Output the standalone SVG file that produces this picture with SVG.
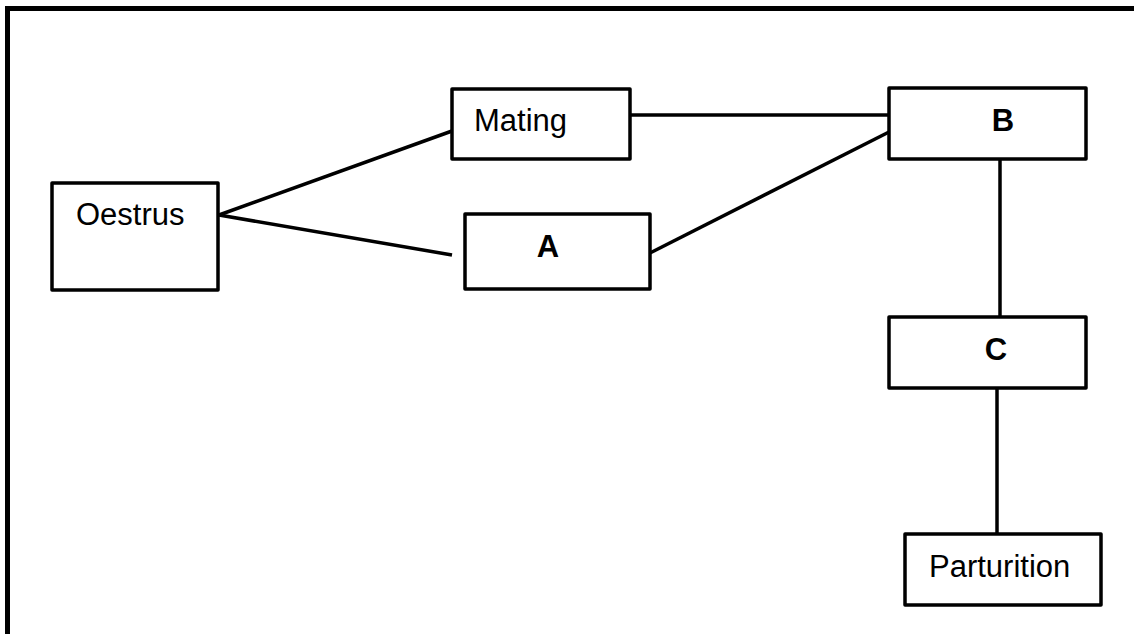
<svg xmlns="http://www.w3.org/2000/svg" width="1134" height="634" viewBox="0 0 1134 634">
<style>
.box{fill:#fff;stroke:#000;stroke-width:3.5;stroke-linejoin:round}
.t{font-family:"Liberation Sans",Arial,sans-serif;font-size:31px;fill:#000}
.b{font-weight:bold;text-anchor:middle}
.c{stroke:#000;stroke-width:3.5;fill:none}
</style>
<rect width="1134" height="634" fill="#fff"/>
<g id="frame">
<path d="M7.5 634 V8.5 H1134" fill="none" stroke="#000" stroke-width="5"/>
</g>
<g id="connectors">
<line class="c" x1="219" y1="215" x2="452" y2="131"/>
<line class="c" x1="219" y1="215" x2="452" y2="255"/>
<line class="c" x1="630" y1="115" x2="889" y2="115"/>
<line class="c" x1="650" y1="253" x2="889" y2="132"/>
<line class="c" x1="1000" y1="159" x2="1000" y2="317"/>
<line class="c" x1="997" y1="388" x2="997" y2="534"/>
</g>
<g id="oestrus">
<rect class="box" x="52" y="183" width="166" height="107"/>
<text class="t" x="76" y="225">Oestrus</text>
</g>
<g id="mating">
<rect class="box" x="452" y="89" width="178" height="70"/>
<text class="t" x="474" y="131">Mating</text>
</g>
<g id="a">
<rect class="box" x="465" y="214" width="185" height="75"/>
<text class="t b" x="548" y="257">A</text>
</g>
<g id="b">
<rect class="box" x="889" y="88" width="197" height="71"/>
<text class="t b" x="1003" y="131">B</text>
</g>
<g id="c">
<rect class="box" x="889" y="317" width="197" height="71"/>
<text class="t b" x="996" y="360">C</text>
</g>
<g id="parturition">
<rect class="box" x="905" y="534" width="196" height="71"/>
<text class="t" x="929" y="577">Parturition</text>
</g>
</svg>
